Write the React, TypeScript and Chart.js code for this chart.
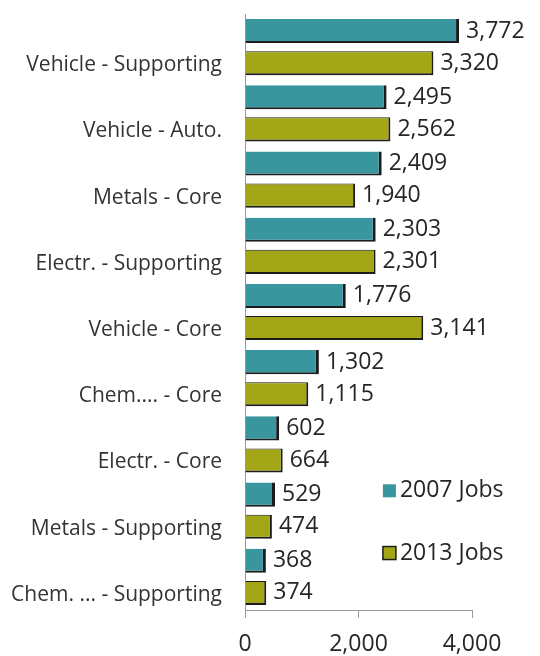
import React, { useEffect, useRef } from "react";
import { Chart, registerables } from "chart.js";

Chart.register(...registerables);

const categories = [
  "Vehicle - Supporting",
  "Vehicle - Auto.",
  "Metals - Core",
  "Electr. - Supporting",
  "Vehicle - Core",
  "Chem.... - Core",
  "Electr. - Core",
  "Metals - Supporting",
  "Chem. ... - Supporting",
];
const jobs2007 = [3772, 2495, 2409, 2303, 1776, 1302, 602, 529, 368];
const jobs2013 = [3320, 2562, 1940, 2301, 3141, 1115, 664, 474, 374];
const seriesNames = ["2007 Jobs", "2013 Jobs"];
const xTicks = [0, 2000, 4000];

const TEAL = "#3a969e";
const OLIVE = "#a3a616";
const DARK = "#1c1c1c";
const FONT = "'Open Sans', sans-serif";

const valueLabels = {
  id: "valueLabels",
  afterDatasetsDraw(chart: any) {
    const ctx = chart.ctx;
    ctx.save();
    ctx.font = `23px ${FONT}`;
    ctx.fillStyle = "#262626";
    ctx.textAlign = "left";
    ctx.textBaseline = "middle";
    chart.data.datasets.forEach((ds: any, di: number) => {
      const meta = chart.getDatasetMeta(di);
      meta.data.forEach((bar: any, i: number) => {
        const v = ds.data[i];
        ctx.fillText(v.toLocaleString("en-US"), bar.x + 7, bar.y);
      });
    });
    ctx.restore();
  },
};

const insideLegend = {
  id: "insideLegend",
  afterDraw(chart: any) {
    const ctx = chart.ctx;
    const xs = chart.scales.x;
    const ys = chart.scales.y;
    ctx.save();
    ctx.font = `23px ${FONT}`;
    ctx.textAlign = "left";
    ctx.textBaseline = "middle";
    const colors = [TEAL, OLIVE];
    const x0 = xs.getPixelForValue(2430);
    const yPos = [ys.getPixelForValue(6.7), ys.getPixelForValue(7.64)];
    seriesNames.forEach((name, i) => {
      const y = yPos[i];
      ctx.fillStyle = colors[i];
      ctx.fillRect(x0, y - 6.5, 13, 13);
      if (i === 1) {
        ctx.strokeStyle = DARK;
        ctx.lineWidth = 1.5;
        ctx.strokeRect(x0, y - 6.5, 13, 13);
      }
      ctx.fillStyle = "#262626";
      ctx.fillText(name, x0 + 17, y);
    });
    ctx.restore();
  },
};

export default function App() {
  const ref = useRef<HTMLCanvasElement | null>(null);
  useEffect(() => {
    if (!ref.current) return;
    const chart = new Chart(ref.current, {
      type: "bar",
      data: {
        labels: categories,
        datasets: [
          {
            label: seriesNames[0],
            data: jobs2007,
            backgroundColor: TEAL,
            borderColor: DARK,
            borderWidth: { top: 0, right: 3, bottom: 2, left: 0 },
            borderSkipped: false,
            categoryPercentage: 0.97,
            barPercentage: 0.75,
          },
          {
            label: seriesNames[1],
            data: jobs2013,
            backgroundColor: OLIVE,
            borderColor: DARK,
            borderWidth: { top: 1, right: 2, bottom: 2, left: 0 },
            borderSkipped: false,
            categoryPercentage: 0.97,
            barPercentage: 0.75,
          },
        ],
      },
      options: {
        indexAxis: "y",
        animation: false,
        responsive: true,
        maintainAspectRatio: false,
        layout: { padding: { top: 14, right: 68, bottom: 0, left: 0 } },
        plugins: {
          legend: { display: false },
          tooltip: { enabled: false },
        },
        scales: {
          x: {
            min: 0,
            max: 4000,
            afterBuildTicks: (scale: any) => {
              scale.ticks = xTicks.map((v) => ({ value: v }));
            },
            afterFit: (scale: any) => {
              scale.height = 46;
              scale.paddingLeft = 0;
              scale.paddingRight = 0;
            },
            grid: {
              display: true,
              drawOnChartArea: false,
              drawTicks: true,
              tickLength: 8,
              color: "#9a9a9a",
            },
            border: { display: true, color: "#9a9a9a", width: 1 },
            ticks: {
              font: { family: FONT, size: 23 },
              color: "#262626",
              padding: 13,
              maxRotation: 0,
              callback: (v: any) => Number(v).toLocaleString("en-US"),
            },
          },
          y: {
            afterFit: (scale: any) => {
              scale.width = 245;
              scale.paddingTop = 0;
              scale.paddingBottom = 0;
            },
            grid: { display: false, drawTicks: false },
            border: { display: true, color: "#9a9a9a", width: 1 },
            ticks: {
              font: { family: FONT, size: 21 },
              color: "#333333",
              padding: 23,
              labelOffset: 18,
              autoSkip: false,
            },
          },
        },
      },
      plugins: [valueLabels, insideLegend],
    });
    return () => chart.destroy();
  }, []);
  return (
    <div style={{ position: "fixed", left: 0, top: 0, width: 540, height: 656, background: "#fff" }}>
      <canvas ref={ref} />
    </div>
  );
}
